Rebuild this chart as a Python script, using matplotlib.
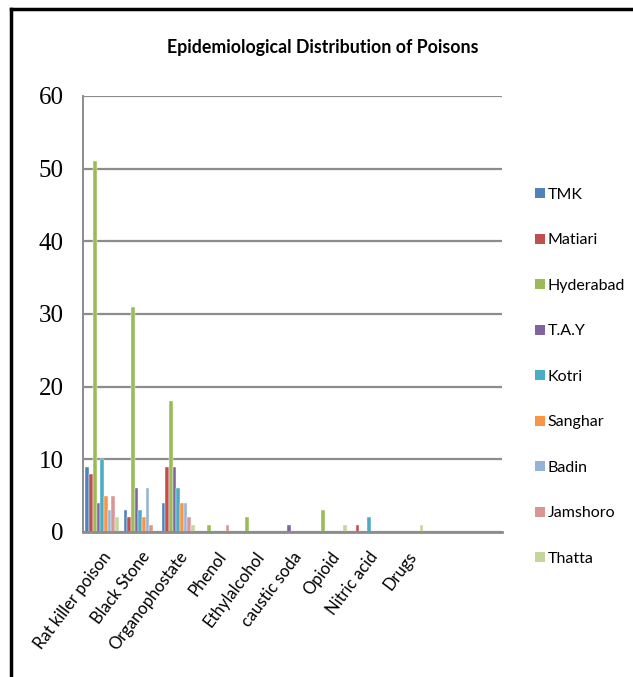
import matplotlib
matplotlib.use("Agg")
import matplotlib.pyplot as plt
import numpy as np
from matplotlib.lines import Line2D
from matplotlib.patches import Patch

categories = ["Rat killer poison", "Black Stone", "Organophostate", "Phenol",
              "Ethylalcohol", "caustic soda", "Opioid", "Nitric acid", "Drugs", "", ""]
series_names = ["TMK", "Matiari", "Hyderabad", "T.A.Y", "Kotri",
                "Sanghar", "Badin", "Jamshoro", "Thatta"]
TMK       = [9, 3, 4, 0, 0, 0, 0, 0, 0, 0, 0]
Matiari   = [8, 2, 9, 0, 0, 0, 0, 1, 0, 0, 0]
Hyderabad = [51, 31, 18, 1, 2, 0, 3, 0, 0, 0, 0]
TAY       = [4, 6, 9, 0, 0, 1, 0, 0, 0, 0, 0]
Kotri     = [10, 3, 6, 0, 0, 0, 0, 2, 0, 0, 0]
Sanghar   = [5, 2, 4, 0, 0, 0, 0, 0, 0, 0, 0]
Badin     = [3, 6, 4, 0, 0, 0, 0, 0, 0, 0, 0]
Jamshoro  = [5, 1, 2, 1, 0, 0, 0, 0, 0, 0, 0]
Thatta    = [2, 0, 1, 0, 0, 0, 1, 0, 1, 0, 0]
yticks = [0, 10, 20, 30, 40, 50, 60]

data = [TMK, Matiari, Hyderabad, TAY, Kotri, Sanghar, Badin, Jamshoro, Thatta]
colors = ["#4F81BD", "#C0504D", "#9BBB59", "#8064A2", "#4BACC6",
          "#F79646", "#95B3D7", "#D99694", "#C3D69B"]

SANS = ["Lato", "DejaVu Sans"]

W, H = 633, 677
fig = plt.figure(figsize=(W / 100, H / 100), dpi=100)
ax = fig.add_axes([83 / W, 1 - 532 / H, (502 - 83) / W, (532 - 96) / H])

x = np.arange(len(categories))
n = len(data)
bw = 0.87 / n
for i, (vals, c) in enumerate(zip(data, colors)):
    ax.bar(x - 0.435 + bw * (i + 0.5), vals, width=bw, color=c,
           edgecolor="white", linewidth=0.3, zorder=3)

ax.set_xlim(-0.5, len(categories) - 0.5)
ax.set_ylim(0, 60)
ax.set_yticks(yticks)
ax.set_yticklabels([str(v) for v in yticks], fontfamily="Liberation Serif", fontsize=18)
ax.tick_params(axis="y", length=0, pad=14)
ax.set_xticks(x)
ax.set_xticklabels(categories, rotation=53, ha="right", va="top",
                   rotation_mode="anchor", fontfamily=SANS, fontsize=12)
ax.tick_params(axis="x", length=0, pad=12)
ax.grid(axis="y", color="#8C8C8C", linewidth=1.6, zorder=0)
ax.set_axisbelow(True)
for s in ["top", "right"]:
    ax.spines[s].set_visible(False)
ax.spines["left"].set_color("#8C8C8C")
ax.spines["left"].set_linewidth(1.4)
ax.spines["bottom"].set_color("#8C8C8C")
ax.spines["bottom"].set_linewidth(2.0)
ax.spines["bottom"].set_zorder(4)

fig.text(323 / W, 1 - 47 / H, "Epidemiological Distribution of Poisons",
         ha="center", va="center", fontfamily=SANS, fontweight="bold",
         fontsize=12.8)

handles = [Patch(facecolor=c, edgecolor="none") for c in colors]
fig.legend(handles, series_names, loc="upper left",
           bbox_to_anchor=(527 / W, 1 - 180 / H), frameon=False,
           prop={"family": SANS, "size": 11.5},
           handlelength=0.6, handleheight=0.6, handletextpad=0.2,
           labelspacing=1.97, borderpad=0)

# outer black frame (left and top visible)
fig.add_artist(Line2D([11 / W, 11 / W], [0, 1 - 9 / H], transform=fig.transFigure,
                      color="black", linewidth=2.5))
fig.add_artist(Line2D([11 / W, 1], [1 - 9 / H, 1 - 9 / H], transform=fig.transFigure,
                      color="black", linewidth=2.5))

fig.savefig("out.png", dpi=100, facecolor="white")
